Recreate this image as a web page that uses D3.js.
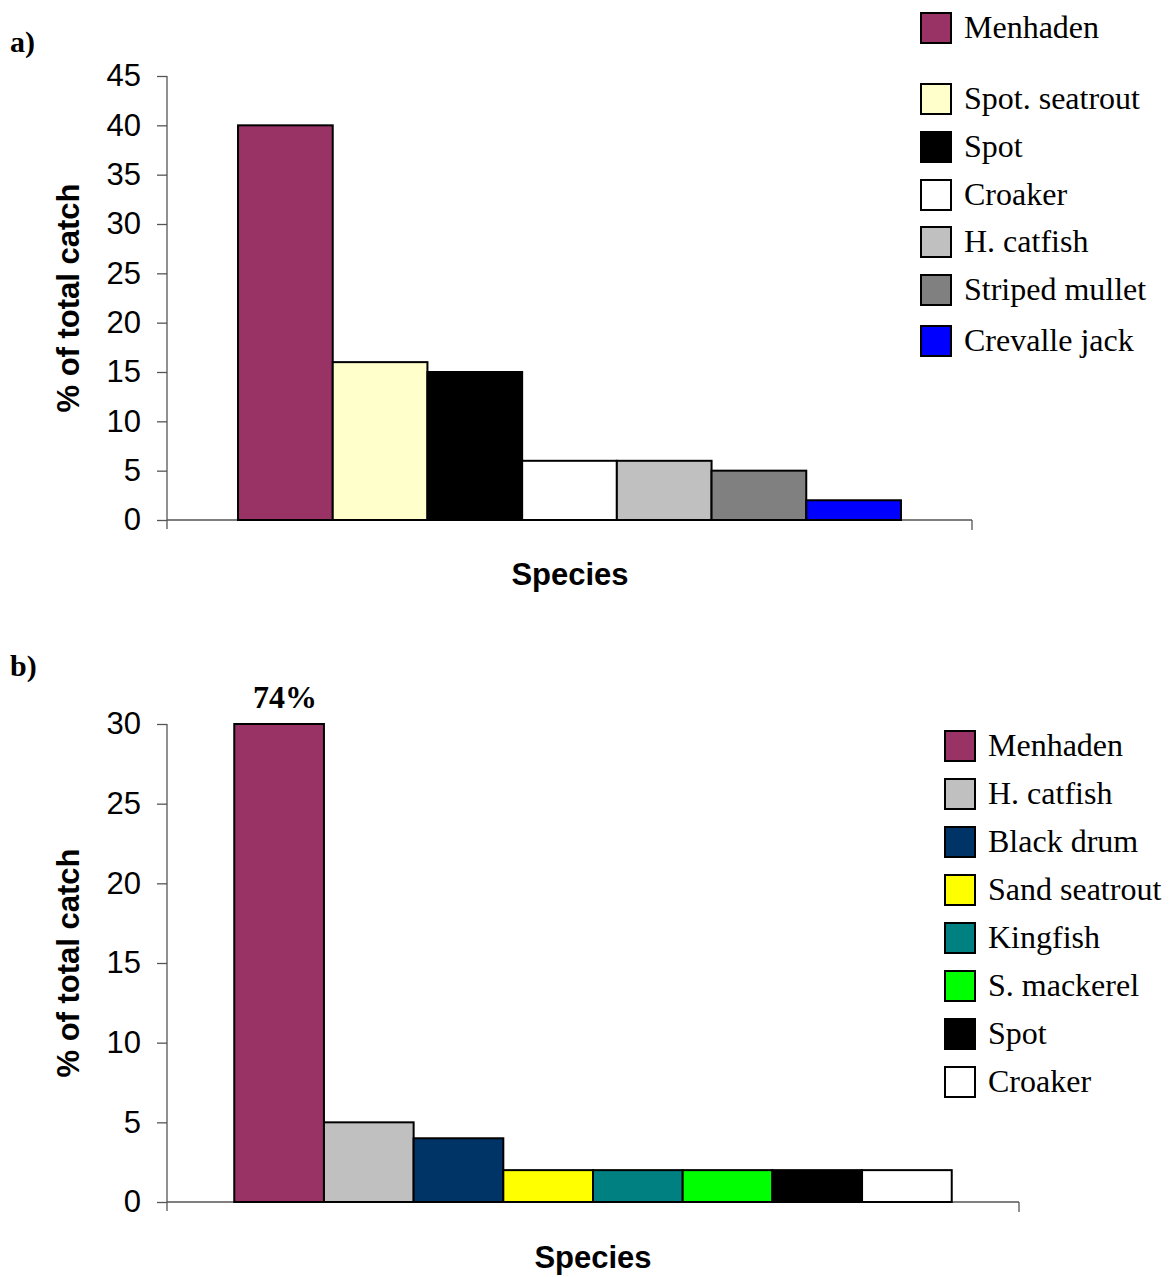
<!DOCTYPE html>
<html><head><meta charset="utf-8">
<script src="https://cdn.jsdelivr.net/npm/d3@7"></script>
<style>body{margin:0;background:#fff}svg{display:block}</style>
</head><body>
<svg id="c" width="1169" height="1277"></svg>
<script>
// Panel a data
const speciesA = ["Menhaden","Spot. seatrout","Spot","Croaker","H. catfish","Striped mullet","Crevalle jack"];
const valuesA = [40,16,15,6,6,5,2];
const colorsA = ["#993366","#FFFFCC","#000000","#FFFFFF","#C0C0C0","#808080","#0000FF"];
const ticksA = [0,5,10,15,20,25,30,35,40,45];
// Panel b data
const speciesB = ["Menhaden","H. catfish","Black drum","Sand seatrout","Kingfish","S. mackerel","Spot","Croaker"];
const valuesB = [74,5,4,2,2,2,2,2];
const colorsB = ["#993366","#C0C0C0","#003366","#FFFF00","#008080","#00FF00","#000000","#FFFFFF"];
const ticksB = [0,5,10,15,20,25,30];

const svg = d3.select("#c");
const sans = "Arial, 'Liberation Sans', sans-serif";
const serif = "'Times New Roman', 'Liberation Serif', serif";

function panel(o){
  const g = svg.append("g");
  const x = d3.scaleBand().domain(o.names).range([o.x0,o.x1]).paddingInner(0).paddingOuter(o.pad);
  const y = d3.scaleLinear().domain([0,o.ymax]).range([o.y0,o.y1]).clamp(true);
  // y axis
  const ya = g.append("g").attr("transform",`translate(${o.x0},0)`)
    .call(d3.axisLeft(y).tickValues(o.ticks).tickSize(10).tickPadding(16));
  ya.select(".domain").remove();
  ya.selectAll(".tick line").attr("stroke","#555").attr("stroke-width",1.3);
  ya.selectAll("text").attr("font-family",sans).attr("font-size",31).attr("fill","#000");
  g.append("line").attr("x1",o.x0).attr("x2",o.x0).attr("y1",o.y1).attr("y2",o.y0+9)
    .attr("stroke","#555").attr("stroke-width",1.3);
  // x axis line with end tick
  g.append("line").attr("x1",o.x0).attr("x2",o.x1).attr("y1",o.y0).attr("y2",o.y0)
    .attr("stroke","#555").attr("stroke-width",1.3);
  g.append("line").attr("x1",o.x1).attr("x2",o.x1).attr("y1",o.y0).attr("y2",o.y0+10)
    .attr("stroke","#555").attr("stroke-width",1.3);
  // bars
  g.selectAll("rect.bar").data(o.names).join("rect").attr("class","bar")
    .attr("x",d=>x(d)).attr("width",x.bandwidth())
    .attr("y",(d,i)=>y(o.vals[i])).attr("height",(d,i)=>o.y0-y(o.vals[i]))
    .attr("fill",(d,i)=>o.cols[i]).attr("stroke","#000").attr("stroke-width",2);
  // labels for clipped bars
  o.names.forEach((d,i)=>{
    if(o.vals[i]>o.ymax){
      g.append("text").attr("x",x(d)+x.bandwidth()/2+6).attr("y",y(o.ymax)-16)
        .attr("text-anchor","middle").attr("font-family",serif).attr("font-weight","bold")
        .attr("font-size",32).text(o.vals[i]+"%");
    }
  });
  // axis titles
  g.append("text").attr("transform",`translate(${o.ytx},${(o.y0+o.y1)/2}) rotate(-90)`)
    .attr("text-anchor","middle").attr("font-family",sans).attr("font-weight","bold")
    .attr("font-size",31).text("% of total catch");
  g.append("text").attr("x",o.xtx).attr("y",o.xty).attr("text-anchor","middle")
    .attr("font-family",sans).attr("font-weight","bold").attr("font-size",31).text("Species");
  // panel label
  g.append("text").attr("x",10).attr("y",o.lby).attr("font-family",serif)
    .attr("font-weight","bold").attr("font-size",30).text(o.label);
  // legend
  const lg = g.append("g");
  o.names.forEach((d,i)=>{
    const cy = o.legY[i];
    lg.append("rect").attr("x",o.legX).attr("y",cy-15).attr("width",30).attr("height",30)
      .attr("fill",o.cols[i]).attr("stroke","#000").attr("stroke-width",2);
    lg.append("text").attr("x",o.legX+43).attr("y",cy+10).attr("font-family",serif)
      .attr("font-size",32).text(d);
  });
}

panel({names:speciesA, vals:valuesA, cols:colorsA, ticks:ticksA, ymax:45,
  x0:167, x1:972, y0:520, y1:76, pad:0.75, ytx:79, xtx:570, xty:585,
  label:"a)", lby:52, legX:921, legY:[28,99,147,195,242,290,341]});
panel({names:speciesB, vals:valuesB, cols:colorsB, ticks:ticksB, ymax:30,
  x0:167, x1:1019, y0:1202, y1:724, pad:0.75, ytx:79, xtx:593, xty:1268,
  label:"b)", lby:676, legX:945, legY:[746,794,842,890,938,986,1034,1082]});
</script>
</body></html>
